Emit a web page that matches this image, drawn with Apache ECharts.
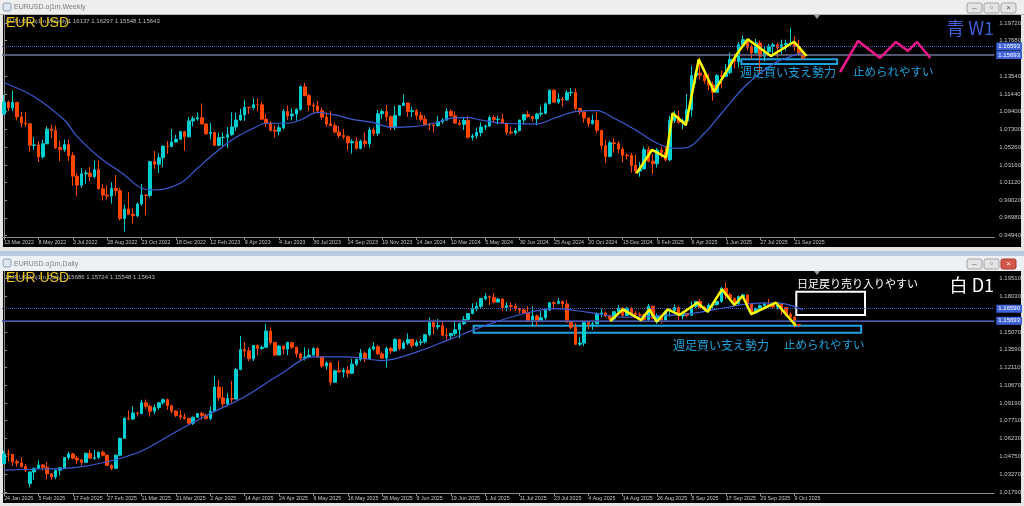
<!DOCTYPE html>
<html><head><meta charset="utf-8">
<script src="https://cdn.jsdelivr.net/npm/echarts@6/dist/echarts.min.js"></script>
<style>html,body{margin:0;padding:0;background:#e9e9e9;overflow:hidden}#c{width:1024px;height:506px}</style>
</head><body><div id="c"></div>
<script>
// ===== Weekly (EURUSD W1) =====
const weeklyTickLabels = ['13 Mar 2022','8 May 2022','3 Jul 2022','28 Aug 2022','23 Oct 2022','18 Dec 2022','12 Feb 2023','9 Apr 2023','4 Jun 2023','30 Jul 2023','24 Sep 2023','19 Nov 2023','14 Jan 2024','10 Mar 2024','5 May 2024','30 Jun 2024','25 Aug 2024','20 Oct 2024','15 Dec 2024','9 Feb 2025','6 Apr 2025','1 Jun 2025','27 Jul 2025','21 Sep 2025'];
const weeklyPriceTicks = [1.19720,1.17680,1.13540,1.11440,1.09400,1.07300,1.05260,1.03160,1.01120,0.99020,0.96980,0.94940];
const weeklyOpen = [1.0912,1.1050,1.0983,1.1046,1.0877,1.0807,1.0796,1.0545,1.0550,1.0410,
1.0563,1.0733,1.0719,1.0518,1.0496,1.0554,1.0425,1.0185,1.0081,1.0213,
1.0221,1.0181,1.0260,1.0037,0.9964,0.9953,1.0042,1.0015,0.9690,0.9801,
0.9740,0.9722,0.9860,0.9965,0.9960,1.0355,1.0325,1.0400,1.0535,1.0530,
1.0585,1.0617,1.0705,1.0645,1.0830,1.0855,1.0868,1.0795,1.0680,1.0695,
1.0545,1.0635,1.0640,1.0670,1.0760,1.0840,1.0900,1.0990,1.0985,1.1020,
1.1018,1.0850,1.0805,1.0720,1.0710,1.0750,1.0940,1.0890,1.0910,1.0965,
1.1230,1.1125,1.1015,1.1005,1.0950,1.0875,1.0795,1.0775,1.0700,1.0660,
1.0645,1.0575,1.0590,1.0510,1.0595,1.0565,1.0725,1.0685,1.0915,1.0940,
1.0880,1.0760,1.0895,1.1010,1.1040,1.0940,1.0950,1.0895,1.0850,1.0785,
1.0782,1.0775,1.0820,1.0840,1.0940,1.0890,1.0805,1.0790,1.0835,1.0640,
1.0655,1.0695,1.0760,1.0770,1.0870,1.0845,1.0850,1.0800,1.0700,1.0690,
1.0715,1.0840,1.0905,1.0880,1.0855,1.0910,1.0920,1.1030,1.1190,1.1050,
1.1085,1.1075,1.1160,1.1165,1.0975,1.0935,1.0865,1.0800,1.0835,1.0720,
1.0540,1.0415,1.0575,1.0565,1.0500,1.0430,1.0425,1.0310,1.0245,1.0270,
1.0495,1.0360,1.0330,1.0490,1.0460,1.0375,1.0835,1.0880,1.0815,1.0830,
1.0960,1.1360,1.1390,1.1365,1.1300,1.1250,1.1165,1.1360,1.1350,1.1395,
1.1550,1.1525,1.1720,1.1780,1.1690,1.1625,1.1740,1.1585,1.1640,1.1700,
1.1720,1.1685,1.1720,1.1735,1.1745,1.1700,1.16137];
const weeklyClose = [1.1050,1.0983,1.1046,1.0877,1.0807,1.0796,1.0545,1.0550,1.0410,1.0563,
1.0733,1.0719,1.0518,1.0496,1.0554,1.0425,1.0185,1.0081,1.0213,1.0221,
1.0181,1.0260,1.0037,0.9964,0.9953,1.0042,1.0015,0.9690,0.9801,0.9740,
0.9722,0.9860,0.9965,0.9960,1.0355,1.0325,1.0400,1.0535,1.0530,1.0585,
1.0617,1.0705,1.0645,1.0830,1.0855,1.0868,1.0795,1.0680,1.0695,1.0545,
1.0635,1.0640,1.0670,1.0760,1.0840,1.0900,1.0990,1.0985,1.1020,1.1018,
1.0850,1.0805,1.0720,1.0710,1.0750,1.0940,1.0890,1.0910,1.0965,1.1230,
1.1125,1.1015,1.1005,1.0950,1.0875,1.0795,1.0775,1.0700,1.0660,1.0645,
1.0575,1.0590,1.0510,1.0595,1.0565,1.0725,1.0685,1.0915,1.0940,1.0880,
1.0760,1.0895,1.1010,1.1040,1.0940,1.0950,1.0895,1.0850,1.0785,1.0782,
1.0775,1.0820,1.0840,1.0940,1.0890,1.0805,1.0790,1.0835,1.0640,1.0655,
1.0695,1.0760,1.0770,1.0870,1.0845,1.0850,1.0800,1.0700,1.0690,1.0715,
1.0840,1.0905,1.0880,1.0855,1.0910,1.0920,1.1030,1.1190,1.1050,1.1085,
1.1075,1.1160,1.1165,1.0975,1.0935,1.0865,1.0800,1.0835,1.0720,1.0540,
1.0415,1.0575,1.0565,1.0500,1.0430,1.0425,1.0310,1.0245,1.0270,1.0495,
1.0360,1.0330,1.0490,1.0460,1.0375,1.0835,1.0880,1.0815,1.0830,1.0960,
1.1360,1.1390,1.1365,1.1300,1.1250,1.1165,1.1360,1.1350,1.1395,1.1550,
1.1525,1.1720,1.1780,1.1690,1.1625,1.1740,1.1585,1.1640,1.1700,1.1720,
1.1685,1.1720,1.1735,1.1745,1.1700,1.1614,1.15643];
const weeklyHigh = [1.1137,1.1070,1.1185,1.1054,1.0935,1.0936,1.0800,1.0642,1.0594,1.0608,
1.0765,1.0787,1.0774,1.0601,1.0613,1.0615,1.0463,1.0220,1.0278,1.0254,
1.0293,1.0368,1.0365,1.0090,1.0079,1.0114,1.0198,1.0050,0.9853,0.9999,
0.9810,0.9876,1.0094,0.9976,1.0365,1.0481,1.0453,1.0544,1.0595,1.0737,
1.0670,1.0714,1.0712,1.0875,1.0887,1.0929,1.1033,1.0803,1.0805,1.0705,
1.0692,1.0695,1.0760,1.0930,1.0926,1.0973,1.1076,1.0993,1.1095,1.1092,
1.1056,1.0912,1.0829,1.0779,1.0787,1.0970,1.1012,1.0975,1.0976,1.1245,
1.1276,1.1150,1.1045,1.1065,1.0990,1.0930,1.0946,1.0809,1.0770,1.0736,
1.0660,1.0617,1.0640,1.0612,1.0695,1.0756,1.0755,1.0960,1.0965,1.1017,
1.0895,1.1009,1.1013,1.1140,1.1045,1.0998,1.0970,1.0932,1.0895,1.0810,
1.0806,1.0888,1.0865,1.0981,1.0964,1.0942,1.0843,1.0876,1.0885,1.0680,
1.0752,1.0812,1.0790,1.0895,1.0895,1.0889,1.0916,1.0812,1.0761,1.0748,
1.0845,1.0907,1.0948,1.0892,1.0925,1.1008,1.1047,1.1201,1.1200,1.1155,
1.1110,1.1189,1.1214,1.1210,1.0983,1.0945,1.0870,1.0905,1.0937,1.0725,
1.0610,1.0597,1.0630,1.0594,1.0525,1.0445,1.0458,1.0437,1.0353,1.0533,
1.0533,1.0443,1.0513,1.0528,1.0528,1.0889,1.0947,1.0954,1.0858,1.1146,
1.1474,1.1427,1.1573,1.1425,1.1380,1.1293,1.1378,1.1419,1.1495,1.1631,
1.1615,1.1754,1.1830,1.1788,1.1722,1.1789,1.1770,1.1700,1.1730,1.1742,
1.1745,1.1780,1.1780,1.1918,1.1819,1.1779,1.16297];
const weeklyLow = [1.0900,1.0945,1.0945,1.0837,1.0757,1.0760,1.0470,1.0492,1.0350,1.0389,
1.0560,1.0627,1.0502,1.0359,1.0469,1.0360,1.0072,0.9952,1.0051,1.0097,
1.0123,1.0158,1.0030,0.9900,0.9910,0.9864,0.9956,0.9669,0.9536,0.9740,
0.9632,0.9705,0.9840,0.9730,0.9935,1.0271,1.0222,1.0290,1.0443,1.0527,
1.0573,1.0608,1.0483,1.0640,1.0767,1.0833,1.0794,1.0669,1.0613,1.0536,
1.0533,1.0524,1.0516,1.0655,1.0713,1.0832,1.0830,1.0910,1.0960,1.0942,
1.0849,1.0760,1.0706,1.0635,1.0665,1.0732,1.0842,1.0835,1.0833,1.0950,
1.1120,1.0945,1.0912,1.0915,1.0845,1.0765,1.0770,1.0686,1.0630,1.0617,
1.0488,1.0448,1.0496,1.0496,1.0522,1.0516,1.0655,1.0655,1.0851,1.0828,
1.0723,1.0723,1.0888,1.1006,1.0877,1.0876,1.0845,1.0821,1.0778,1.0722,
1.0695,1.0761,1.0796,1.0835,1.0880,1.0800,1.0776,1.0724,1.0622,1.0601,
1.0624,1.0650,1.0723,1.0765,1.0805,1.0788,1.0795,1.0668,1.0671,1.0666,
1.0710,1.0788,1.0868,1.0825,1.0777,1.0881,1.0906,1.1026,1.1041,1.1026,
1.0999,1.1069,1.1120,1.0952,1.0905,1.0810,1.0761,1.0788,1.0683,1.0496,
1.0335,1.0405,1.0460,1.0452,1.0343,1.0382,1.0226,1.0215,1.0178,1.0266,
1.0345,1.0210,1.0285,1.0401,1.0360,1.0360,1.0805,1.0797,1.0733,1.0777,
1.0880,1.1263,1.1315,1.1265,1.1190,1.1065,1.1160,1.1210,1.1345,1.1373,
1.1446,1.1455,1.1710,1.1654,1.1556,1.1620,1.1392,1.1528,1.1590,1.1575,
1.1575,1.1608,1.1650,1.1730,1.1646,1.1600,1.15548];
// blue moving-average curve, read at these bar positions
const weeklyMAAt = [0,7,14,17,22,28,32,35,41,45,49,53,58,61,66,69,73,77,81,86,90,95,100,104,108,111,116,124,128,133,138,142,147,152,156,159,163,167,172,176,180,183,186];
const weeklyMA = [1.1277,1.1114,1.0841,1.0646,1.0412,1.0199,1.0043,1.0023,1.0102,1.0277,1.0452,1.0608,1.0744,1.0803,1.0803,1.0841,1.0931,1.0900,1.0849,1.0810,1.0756,1.0763,1.0803,1.0861,1.0868,1.0841,1.0803,1.0795,1.0861,1.0938,1.0950,1.0861,1.0724,1.0569,1.0511,1.0518,1.0686,1.0920,1.1212,1.1387,1.1523,1.1581,1.1639];
// yellow hand-drawn swing line
const weeklyZigAt = [147.2,150.8,154.1,155.6,158.7,161.7,165.3,170.7,173.1,178.5,183.9,186.8];
const weeklyZigValue = [1.0218,1.0491,1.0405,1.0920,1.0783,1.1551,1.1172,1.1621,1.1784,1.1589,1.1756,1.1589];
// pink projection
const weeklyProjAt = [194.6,198.8,203.9,207.6,210.4,212.5,215.6];
const weeklyProjValue = [1.1402,1.1765,1.1566,1.1753,1.1648,1.1753,1.1566];
const weeklyBoxAt = [171.6,193.9];
const weeklyBoxValue = [1.1551,1.1496];
const weeklyLevels = [1.16593,1.15693];

// ===== Daily (EURUSD D1) =====
const dailyTickLabels = ['24 Jan 2025','5 Feb 2025','17 Feb 2025','27 Feb 2025','11 Mar 2025','21 Mar 2025','2 Apr 2025','14 Apr 2025','24 Apr 2025','6 May 2025','16 May 2025','28 May 2025','9 Jun 2025','19 Jun 2025','1 Jul 2025','11 Jul 2025','23 Jul 2025','4 Aug 2025','14 Aug 2025','26 Aug 2025','5 Sep 2025','17 Sep 2025','29 Sep 2025','9 Oct 2025'];
const dailyPriceTicks = [1.19510,1.18030,1.15070,1.13590,1.12110,1.10670,1.09190,1.07710,1.06230,1.04750,1.03270,1.01790];
const dailyOpen = [1.0415,1.0495,1.0492,1.0430,1.0420,1.0390,1.0250,1.0345,1.0375,1.0403,
1.0385,1.0330,1.0305,1.0360,1.0380,1.0465,1.0495,1.0460,1.0445,1.0425,
1.0500,1.0460,1.0465,1.0510,1.0485,1.0400,1.0375,1.0485,1.0625,1.0790,
1.0785,1.0835,1.0830,1.0920,1.0890,1.0850,1.0880,1.0920,1.0945,1.0895,
1.0850,1.0815,1.0800,1.0790,1.0750,1.0800,1.0830,1.0815,1.0790,1.0850,
1.1050,1.0960,1.0910,1.0955,1.0950,1.1195,1.1360,1.1350,1.1285,1.1395,
1.1370,1.1380,1.1515,1.1420,1.1315,1.1390,1.1365,1.1420,1.1380,1.1325,
1.1290,1.1300,1.1315,1.1370,1.1300,1.1225,1.1250,1.1090,1.1185,1.1175,
1.1190,1.1165,1.1240,1.1280,1.1330,1.1285,1.1365,1.1385,1.1325,1.1290,
1.1370,1.1350,1.1445,1.1370,1.1415,1.1445,1.1395,1.1420,1.1425,1.1485,
1.1585,1.1550,1.1560,1.1480,1.1475,1.1495,1.1525,1.1575,1.1610,1.1660,
1.1700,1.1720,1.1785,1.1800,1.1795,1.1755,1.1780,1.1710,1.1725,1.1720,
1.1700,1.1690,1.1665,1.1600,1.1640,1.1595,1.1625,1.1690,1.1750,1.1745,
1.1760,1.1740,1.1590,1.1545,1.1405,1.1415,1.1585,1.1570,1.1575,1.1660,
1.1665,1.1640,1.1615,1.1675,1.1705,1.1645,1.1705,1.1660,1.1650,1.1648,
1.1610,1.1720,1.1620,1.1640,1.1605,1.1680,1.1685,1.1710,1.1640,1.1660,
1.1645,1.1720,1.1760,1.1710,1.1695,1.1730,1.1735,1.1760,1.1870,1.1815,
1.1785,1.1745,1.1800,1.1815,1.1740,1.1665,1.1700,1.1725,1.1735,1.1730,
1.1715,1.1740,1.1710,1.1655,1.1630,1.15686];
const dailyClose = [1.0495,1.0492,1.0430,1.0420,1.0390,1.0360,1.0345,1.0375,1.0403,1.0385,
1.0330,1.0305,1.0360,1.0380,1.0465,1.0495,1.0460,1.0445,1.0425,1.0500,
1.0460,1.0465,1.0510,1.0485,1.0400,1.0375,1.0485,1.0625,1.0790,1.0785,
1.0835,1.0830,1.0920,1.0890,1.0850,1.0880,1.0920,1.0945,1.0895,1.0850,
1.0815,1.0800,1.0790,1.0750,1.0800,1.0830,1.0815,1.0790,1.0850,1.1050,
1.0960,1.0910,1.0955,1.0950,1.1195,1.1360,1.1350,1.1285,1.1395,1.1370,
1.1380,1.1515,1.1420,1.1315,1.1390,1.1365,1.1420,1.1380,1.1325,1.1290,
1.1300,1.1315,1.1370,1.1300,1.1225,1.1250,1.1090,1.1185,1.1175,1.1190,
1.1165,1.1240,1.1280,1.1330,1.1285,1.1365,1.1385,1.1325,1.1290,1.1370,
1.1350,1.1445,1.1370,1.1415,1.1445,1.1395,1.1420,1.1425,1.1485,1.1585,
1.1550,1.1560,1.1480,1.1475,1.1495,1.1525,1.1575,1.1610,1.1660,1.1700,
1.1720,1.1785,1.1800,1.1795,1.1755,1.1780,1.1710,1.1725,1.1720,1.1700,
1.1690,1.1665,1.1600,1.1640,1.1595,1.1625,1.1690,1.1750,1.1745,1.1760,
1.1740,1.1590,1.1545,1.1405,1.1415,1.1585,1.1570,1.1575,1.1660,1.1665,
1.1640,1.1615,1.1675,1.1705,1.1645,1.1705,1.1660,1.1650,1.1648,1.1610,
1.1720,1.1620,1.1640,1.1605,1.1680,1.1685,1.1710,1.1640,1.1660,1.1645,
1.1720,1.1760,1.1710,1.1695,1.1730,1.1735,1.1760,1.1870,1.1815,1.1785,
1.1745,1.1800,1.1815,1.1740,1.1665,1.1700,1.1725,1.1735,1.1730,1.1715,
1.1740,1.1710,1.1655,1.1630,1.1565,1.15643];
const dailyHigh = [1.0522,1.0533,1.0495,1.0450,1.0466,1.0412,1.0350,1.0383,1.0443,1.0410,
1.0429,1.0335,1.0365,1.0385,1.0465,1.0513,1.0505,1.0480,1.0450,1.0505,
1.0528,1.0528,1.0515,1.0523,1.0490,1.0410,1.0490,1.0630,1.0800,1.0855,
1.0890,1.0845,1.0945,1.0947,1.0905,1.0905,1.0925,1.0955,1.0955,1.0905,
1.0860,1.0860,1.0830,1.0795,1.0805,1.0830,1.0845,1.0830,1.0890,1.1145,
1.1110,1.1050,1.1000,1.1100,1.1210,1.1475,1.1425,1.1380,1.1400,1.1405,
1.1395,1.1575,1.1545,1.1425,1.1400,1.1395,1.1425,1.1425,1.1385,1.1335,
1.1380,1.1365,1.1380,1.1380,1.1305,1.1265,1.1255,1.1195,1.1265,1.1210,
1.1225,1.1285,1.1285,1.1365,1.1345,1.1380,1.1420,1.1400,1.1345,1.1385,
1.1385,1.1455,1.1450,1.1435,1.1495,1.1450,1.1440,1.1450,1.1490,1.1630,
1.1610,1.1615,1.1590,1.1540,1.1500,1.1590,1.1585,1.1640,1.1665,1.1745,
1.1755,1.1790,1.1830,1.1810,1.1830,1.1790,1.1785,1.1755,1.1750,1.1745,
1.1710,1.1700,1.1720,1.1720,1.1650,1.1680,1.1700,1.1755,1.1760,1.1790,
1.1765,1.1770,1.1595,1.1580,1.1465,1.1590,1.1590,1.1590,1.1670,1.1700,
1.1675,1.1650,1.1680,1.1730,1.1715,1.1715,1.1710,1.1680,1.1670,1.1660,
1.1740,1.1725,1.1660,1.1645,1.1690,1.1700,1.1735,1.1720,1.1680,1.1665,
1.1760,1.1765,1.1780,1.1725,1.1745,1.1750,1.1765,1.1880,1.1918,1.1830,
1.1795,1.1810,1.1820,1.1818,1.1745,1.1710,1.1735,1.1755,1.1780,1.1745,
1.1745,1.1745,1.1715,1.1670,1.1640,1.15724];
const dailyLow = [1.0410,1.0433,1.0397,1.0390,1.0380,1.0345,1.0220,1.0280,1.0370,1.0357,
1.0285,1.0280,1.0285,1.0315,1.0375,1.0445,1.0450,1.0410,1.0400,1.0420,
1.0455,1.0445,1.0455,1.0475,1.0395,1.0360,1.0375,1.0475,1.0620,1.0775,
1.0775,1.0805,1.0825,1.0870,1.0805,1.0825,1.0860,1.0905,1.0860,1.0830,
1.0800,1.0780,1.0780,1.0745,1.0735,1.0795,1.0780,1.0780,1.0775,1.0850,
1.0935,1.0880,1.0890,1.0920,1.0950,1.1195,1.1300,1.1265,1.1265,1.1315,
1.1360,1.1380,1.1400,1.1310,1.1315,1.1320,1.1315,1.1365,1.1295,1.1265,
1.1270,1.1290,1.1310,1.1295,1.1210,1.1195,1.1065,1.1085,1.1170,1.1130,
1.1130,1.1160,1.1225,1.1265,1.1255,1.1280,1.1355,1.1320,1.1285,1.1210,
1.1325,1.1345,1.1355,1.1365,1.1400,1.1375,1.1385,1.1395,1.1410,1.1470,
1.1490,1.1530,1.1475,1.1445,1.1445,1.1475,1.1455,1.1565,1.1590,1.1655,
1.1680,1.1705,1.1770,1.1730,1.1745,1.1750,1.1680,1.1680,1.1680,1.1680,
1.1660,1.1655,1.1595,1.1555,1.1555,1.1590,1.1610,1.1680,1.1700,1.1735,
1.1705,1.1585,1.1530,1.1400,1.1390,1.1390,1.1530,1.1525,1.1570,1.1630,
1.1625,1.1590,1.1590,1.1665,1.1630,1.1640,1.1655,1.1635,1.1625,1.1590,
1.1590,1.1615,1.1575,1.1575,1.1600,1.1635,1.1675,1.1605,1.1610,1.1630,
1.1640,1.1705,1.1705,1.1680,1.1690,1.1700,1.1725,1.1750,1.1780,1.1770,
1.1730,1.1730,1.1790,1.1735,1.1645,1.1660,1.1690,1.1700,1.1720,1.1700,
1.1695,1.1650,1.1640,1.1610,1.1545,1.15548];
const dailyMAAt = [0,8,16,24,32,40,48,56,64,72,80,88,96,104,112,120,128,136,144,152,160,168,173,180,186];
const dailyMA = [1.0360,1.0370,1.0380,1.0430,1.0520,1.0680,1.0830,1.0970,1.1150,1.1300,1.1300,1.1270,1.1340,1.1450,1.1560,1.1650,1.1700,1.1670,1.1630,1.1640,1.1660,1.1710,1.1739,1.1748,1.1690];
const dailyZigAt = [141.1,144.0,148.3,150.2,151.9,154.5,157.2,161.4,163.8,167.1,170.0,171.9,173.9,179.7,184.3];
const dailyZigValue = [1.1598,1.1695,1.1606,1.1695,1.1592,1.1695,1.1648,1.1750,1.1675,1.1861,1.1731,1.1806,1.1656,1.1750,1.1559];
const dailyBoxAt = [109.3,199.5];
const dailyBoxValue = [1.1559,1.1501];
const dailyWhiteBoxAt = [184.4,200.4];
const dailyWhiteBoxValue = [1.1841,1.1648];
const dailyLevels = [1.16620,1.16340,1.15693];

// ===== build =====
const SLOTS = 231;
function cats(labels){const a=new Array(SLOTS).fill('');labels.forEach((t,i)=>{a[i*8]=t;});return a;}
function ohlc(o,h,l,c){return o.map((v,i)=>[v,c[i],l[i],h[i]]);}
function pts(xs,ys){return xs.map((x,i)=>[x,ys[i]]);}
const shown=(i,v)=>v!=='';
const AX='#8c8c8c', TXT='#c6c6c6', BULL='#00ced1', BEAR='#ff4500', CYAN='#1ea3df';
const small='"Liberation Sans", Arial, sans-serif';
function catAxis(g,labels){return {type:'category',gridIndex:g,data:cats(labels),boundaryGap:true,
 axisLine:{show:true,lineStyle:{color:AX}},axisTick:{show:true,interval:shown,alignWithLabel:true,length:3,lineStyle:{color:AX}},
 axisLabel:{interval:shown,showMinLabel:true,hideOverlap:false,align:'left',color:TXT,fontSize:5.3,margin:3,fontFamily:small},splitLine:{show:false}};}
function valX(g){return {type:'value',gridIndex:g,min:-0.5,max:SLOTS-0.5,show:false,position:'top'};}
function priceAxis(g,min,max,ticks){return {type:'value',gridIndex:g,position:'right',min:min,max:max,scale:true,
 axisLine:{show:true,lineStyle:{color:AX}},axisTick:{show:true,customValues:ticks,length:3,lineStyle:{color:AX}},
 axisLabel:{customValues:ticks,formatter:v=>v.toFixed(5),color:TXT,fontSize:6,margin:5,fontFamily:small},splitLine:{show:false}};}
function tag(txt,bg){return {show:true,position:'end',formatter:txt,color:'#ffffff',backgroundColor:bg,fontSize:6,padding:[1,2],distance:2,fontFamily:small};}
function candle(xi,yi,o,h,l,c,lines){return {type:'candlestick',xAxisIndex:xi,yAxisIndex:yi,data:ohlc(o,h,l,c),barWidth:3,
 itemStyle:{color:BULL,color0:BEAR,borderColor:BULL,borderColor0:BEAR,borderWidth:1},
 markLine:{symbol:['none','none'],silent:true,data:lines}};}
function line(xi,yi,data,color,width,extra){return Object.assign({type:'line',xAxisIndex:xi,yAxisIndex:yi,data:data,symbol:'none',
 lineStyle:{color:color,width:width},z:5},extra||{});}
function box(xs,ys,color){return {silent:true,itemStyle:{color:'rgba(0,0,0,0)',borderColor:color,borderWidth:2},
 data:[[{coord:[xs[0],ys[0]]},{coord:[xs[1],ys[1]]}]]};}

function T(text,x,y,size,color,opt){opt=opt||{};return {type:'text',z:100,style:{text:text,x:x,y:y,fill:color,
 font:(opt.weight||'normal')+' '+size+'px '+(opt.family||'"Liberation Sans", Arial, sans-serif'),
 textAlign:opt.align||'left',textVerticalAlign:'middle',verticalAlign:'middle'}};}
function R(x,y,w,h,fill,z,stroke){return {type:'rect',z:z===undefined?-10:z,shape:{x:x,y:y,width:w,height:h,r:stroke?2:0},style:{fill:fill,stroke:stroke||null,lineWidth:1}};}
function buttons(y,closeRed){const out=[];const xs=[967,984,1001];xs.forEach((x,i)=>{
 out.push(R(x,y,15,10,(i===2&&closeRed)?'#d5564a':'#e4e4e4',90,(i===2&&closeRed)?'#a8392e':'#a3a3a3'));
 out.push(T(['–','▫','×'][i],x+7.5,y+5,8,(i===2&&closeRed)?'#ffffff':'#555555',{align:'center'}));});return out;}
const jp='"Noto Sans CJK JP", sans-serif';

const graphic=[
 R(0,0,1024,506,'#e6e6e6',-20),
 R(0,0,1024,14,'#eeeeee',-19), R(0,14,1024,1,'#b4b4b4',-19),
 R(3,15,1018,232,'#000000',-18),
 R(0,247,1024,4,'#e4e4e4',-19), R(0,251,1024,5,'#b7c9df',-19),
 R(0,256,1024,15,'#edf0f4',-19),
 R(3,271,1018,232,'#000000',-18),
 R(3,3,8,8,'#dfe6ee',90,'#8aa0b8'), T('EURUSD.oj1m,Weekly',14,7,7,'#7c7c7c',{family:small}),
 R(3,259,8,8,'#dfe6ee',90,'#8aa0b8'), T('EURUSD.oj1m,Daily',14,264,7,'#7c7c7c',{family:small}),
 ...buttons(3,false), ...buttons(259,true),
 {type:'polygon',z:90,shape:{points:[[814,15],[820,15],[817,19]]},style:{fill:'#9a9a9a'}},
 {type:'polygon',z:90,shape:{points:[[814,271],[820,271],[817,275]]},style:{fill:'#9a9a9a'}},
 T('EURUSD.oj1m,Weekly',6,21,6,'#bdbdbd',{family:small}), T('1.16137 1.16297 1.15548 1.15643',68,21,6,'#bdbdbd',{family:small}),
 T('EUR USD',6,23.5,14,'#e8c31c'),
 T('青 W1',994,28,18,'#3f5fd4',{align:'right',family:jp}),
 T('週足買い支え勢力',740,72,12,CYAN,{family:jp}),
 T('止められやすい',853,72,11.5,CYAN,{family:jp}),
 T('EURUSD.oj1m,Daily',6,277,6,'#bdbdbd',{family:small}), T('1.15686 1.15724 1.15548 1.15643',63,277,6,'#bdbdbd',{family:small}),
 T('EUR USD',6,278.5,14,'#e8c31c'),
 T('白 D1',994,285.5,18,'#ffffff',{align:'right',family:jp}),
 T('日足戻り売り入りやすい',797,284,11,'#ffffff',{family:jp}),
 T('週足買い支え勢力',673,345,12,CYAN,{family:jp}),
 T('止められやすい',784,345,11.5,CYAN,{family:jp})
];

const option={
 animation:false,
 backgroundColor:'transparent',
 graphic:graphic,
 grid:[{left:2,right:27,top:15,height:222},{left:2,right:27,top:271,height:222}],
 xAxis:[catAxis(0,weeklyTickLabels),valX(0),catAxis(1,dailyTickLabels),valX(1)],
 yAxis:[priceAxis(0,0.9474,1.2068,weeklyPriceTicks),priceAxis(1,1.0171,1.2013,dailyPriceTicks)],
 series:[
  candle(0,0,weeklyOpen,weeklyHigh,weeklyLow,weeklyClose,[
   {yAxis:weeklyLevels[0],lineStyle:{color:'#4257bf',type:'dotted',width:1},label:tag('1.16593','#3f63d8')},
   {yAxis:weeklyLevels[1],lineStyle:{color:'#6d7594',type:'solid',width:1.5},label:tag('1.15693','#3f63d8')}]),
  line(1,0,pts(weeklyMAAt,weeklyMA),'#3b5bd2',1.2,{smooth:0.35}),
  line(1,0,pts(weeklyZigAt,weeklyZigValue),'#ffff00',2.5,{markArea:box(weeklyBoxAt,weeklyBoxValue,CYAN)}),
  line(1,0,pts(weeklyProjAt,weeklyProjValue),'#f0168c',2.5),
  candle(2,1,dailyOpen,dailyHigh,dailyLow,dailyClose,[
   {yAxis:dailyLevels[0],lineStyle:{color:'#4257bf',type:'dotted',width:1},label:tag('1.16590','#3f63d8')},
   {yAxis:dailyLevels[1],lineStyle:{color:'#9a9a9a',type:'solid',width:1},label:{show:false}},
   {yAxis:dailyLevels[2],lineStyle:{color:'#3a4aa8',type:'solid',width:1.5},label:tag('1.15693','#3f63d8')}]),
  line(3,1,pts(dailyMAAt,dailyMA),'#3b5bd2',1.2,{smooth:0.35}),
  line(3,1,pts(dailyZigAt,dailyZigValue),'#ffff00',2.5,{markArea:box(dailyBoxAt,dailyBoxValue,CYAN)}),
  line(3,1,[],'#ffffff',1,{markArea:box(dailyWhiteBoxAt,dailyWhiteBoxValue,'#ffffff')})
 ]
};
const chart=echarts.init(document.getElementById('c'),null,{renderer:'canvas'});
chart.setOption(option);
</script></body></html>
